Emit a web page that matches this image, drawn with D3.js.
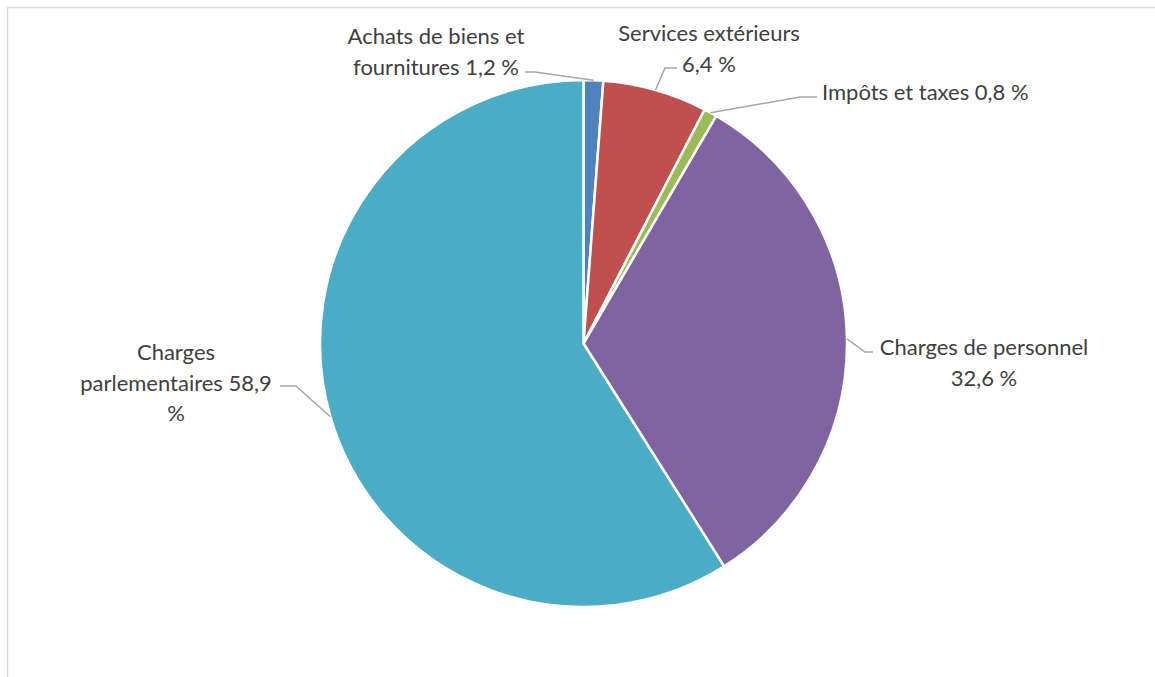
<!DOCTYPE html>
<html><head><meta charset="utf-8">
<script src="https://cdn.jsdelivr.net/npm/d3@7"></script>
<style>
html,body{margin:0;padding:0;background:#fff;}
text{font-family:Lato,"Open Sans",sans-serif;}
</style></head>
<body><svg id="c" width="1155" height="677"></svg>
<script>
const categories = ["Achats de biens et fournitures", "Services extérieurs", "Impôts et taxes", "Charges de personnel", "Charges parlementaires"];
const values = [1.2, 6.4, 0.8, 32.6, 58.9];
const valueLabels = ["1,2 %", "6,4 %", "0,8 %", "32,6 %", "58,9 %"];
const colors = ["#4F81BD", "#C0504D", "#9BBB59", "#8064A2", "#4BACC6"];

// label layout: text lines, anchor x, first-line baseline y, leader elbow (x,y) and leader start (x,y)
const labelLayout = [
  {lines:["Achats de biens et","fournitures 1,2 %"], x:436, y:44, anchor:"middle", start:[525,72], elbow:[535,72]},
  {lines:["Services extérieurs","6,4 %"], x:709, y:41, anchor:"middle", start:[677,68], elbow:[665,68]},
  {lines:["Impôts et taxes 0,8 %"], x:822, y:100, anchor:"start", start:[817,97], elbow:[800,97]},
  {lines:["Charges de personnel","32,6 %"], x:984, y:355, anchor:"middle", start:[873,352], elbow:[865,352]},
  {lines:["Charges","parlementaires 58,9","%"], x:176, y:360, anchor:"middle", start:[280,386], elbow:[296,386]}
];

const svg = d3.select("#c");
// frame
svg.append("line").attr("x1",7).attr("y1",7.5).attr("x2",1155).attr("y2",7.5).attr("stroke","#d9d9d9").attr("stroke-width",1.5);
svg.append("line").attr("x1",7.5).attr("y1",7).attr("x2",7.5).attr("y2",677).attr("stroke","#d9d9d9").attr("stroke-width",1.5);

const cx = 583.5, cy = 343.5, r = 263.5;
const data = categories.map((c,i)=>({name:c, value:values[i], color:colors[i], i}));
const pie = d3.pie().sort(null).value(d=>d.value);
const arcs = pie(data);
const arc = d3.arc().innerRadius(0).outerRadius(r);
const g = svg.append("g").attr("transform",`translate(${cx},${cy})`);
g.selectAll("path").data(arcs).join("path")
  .attr("d",arc).attr("fill",d=>d.data.color)
  .attr("stroke","#fff").attr("stroke-width",2.5).attr("stroke-linejoin","round");

// leaders
const edge = d3.arc().innerRadius(r).outerRadius(r);
arcs.forEach((a,i)=>{
  const L = labelLayout[i];
  const p = edge.centroid(a);
  const pts = [L.start, L.elbow, [cx+p[0], cy+p[1]]];
  svg.append("polyline").attr("points", pts.map(q=>q.join(",")).join(" "))
    .attr("fill","none").attr("stroke","#a6a6a6").attr("stroke-width",1.5);
  const t = svg.append("text").attr("x",L.x).attr("y",L.y).attr("text-anchor",L.anchor)
    .attr("fill","#404040").attr("font-size",22);
  L.lines.forEach((ln,k)=>t.append("tspan").attr("x",L.x).attr("dy",k?30.5:0).text(ln));
});
</script></body></html>
